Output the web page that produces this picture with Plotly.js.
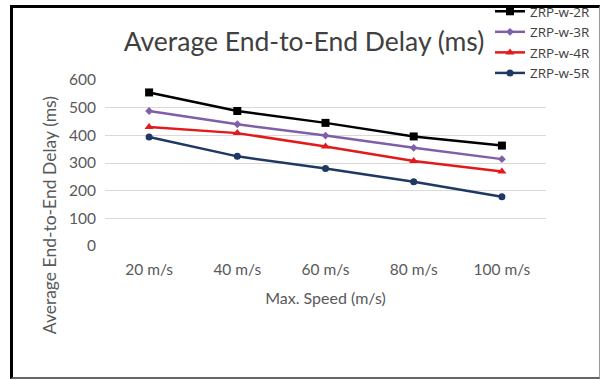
<!DOCTYPE html>
<html>
<head>
<meta charset="utf-8">
<script src="https://cdn.plot.ly/plotly-3.0.1.min.js"></script>
<style>
html,body{margin:0;padding:0;background:#fff;}
#chart{position:absolute;left:0;top:0;width:602px;height:380px;}
#frame{position:absolute;left:10px;top:5px;width:586px;height:369px;border-left:3px solid #000;border-top:3px solid #000;border-right:1px solid #999;border-bottom:2px solid #666;pointer-events:none;}
</style>
</head>
<body>
<div id="chart"></div>
<div id="frame"></div>
<script>
const categories = ["20 m/s", "40 m/s", "60 m/s", "80 m/s", "100 m/s"];
const seriesNames = ["ZRP-w-2R", "ZRP-w-3R", "ZRP-w-4R", "ZRP-w-5R"];
const zrp2R = [555, 488, 445, 396, 363];
const zrp3R = [488, 440, 399, 355, 314];
const zrp4R = [430, 408, 360, 307, 269];
const zrp5R = [394, 324, 280, 232, 178];
const yTicks = [0, 100, 200, 300, 400, 500, 600];

const colors = ["#000000", "#7F5FA8", "#E31A1C", "#1F3864"];
const symbols = ["square", "diamond", "triangle-up", "circle"];
const sizes = [8, 6, 8, 7];
const values = [zrp2R, zrp3R, zrp4R, zrp5R];

const FONT = "Lato, 'Liberation Sans', sans-serif";

const traces = values.map((v, i) => ({
  type: "scatter",
  mode: "lines+markers",
  name: seriesNames[i],
  x: categories,
  y: v,
  line: {color: colors[i], width: 2.5},
  marker: {color: colors[i], symbol: symbols[i], size: sizes[i]}
}));

const layout = {
  width: 602,
  height: 380,
  margin: {l: 105, r: 56, t: 80, b: 134, autoexpand: false},
  paper_bgcolor: "#ffffff",
  plot_bgcolor: "#ffffff",
  font: {family: FONT, color: "#595959", size: 15},
  title: {
    text: "Average End-to-End Delay (ms)",
    font: {family: FONT, size: 26.5, color: "#404040"},
    x: 304 / 602, xanchor: "center", xref: "container",
    y: 1 - 42 / 380, yanchor: "middle", yref: "container"
  },
  xaxis: {
    type: "category",
    categoryorder: "array",
    categoryarray: categories,
    range: [-0.5, categories.length - 0.5],
    showgrid: false,
    zeroline: false,
    showline: false,
    ticks: "",
    ticklabelstandoff: 12,
    tickfont: {family: FONT, size: 15.5, color: "#595959"},
    title: {text: "Max. Speed (m/s)", font: {family: FONT, size: 16, color: "#595959"}, standoff: 16}
  },
  yaxis: {
    range: [0, 600],
    tickvals: yTicks,
    showgrid: true,
    gridcolor: "#D9D9D9",
    gridwidth: 1,
    zeroline: false,
    showline: false,
    ticks: "",
    ticklabelstandoff: 8,
    tickfont: {family: FONT, size: 15.5, color: "#595959"}
  },
  annotations: [{
    text: "Average End-to-End Delay (ms)",
    xref: "paper", yref: "paper",
    x: (49 - 105) / 441, y: (245.7 - 215) / 165.7,
    xanchor: "center", yanchor: "middle",
    textangle: -90, showarrow: false,
    font: {family: FONT, size: 17.5, color: "#595959"}
  }],
  legend: {
    xref: "container", yref: "paper",
    x: 490 / 602, xanchor: "left",
    y: 1 + 84 / 166, yanchor: "top",
    bgcolor: "rgba(0,0,0,0)",
    font: {family: "'Open Sans', Lato, sans-serif", size: 13.5, color: "#404040"},
    tracegroupgap: 0,
    itemwidth: 30
  },
  showlegend: true
};

Plotly.newPlot("chart", traces, layout, {displayModeBar: false, staticPlot: true});
</script>
</body>
</html>
